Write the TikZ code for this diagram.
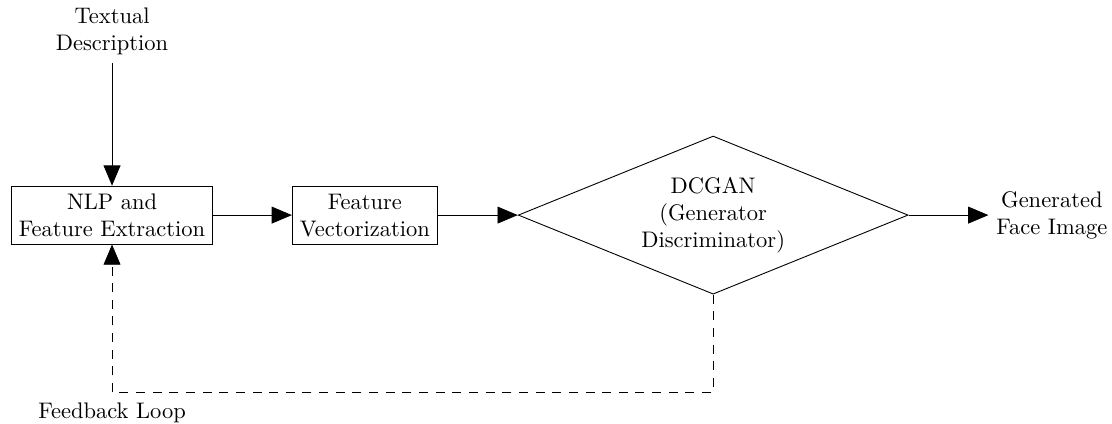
\documentclass[tikz,border=0pt]{standalone}
\usepackage{amsmath}
\usepackage{tikz}
\usetikzlibrary{arrows.meta,positioning,shapes.geometric}

\begin{document}
\begin{tikzpicture}[
    box/.style={draw, align=center},
    arrow/.style={-{Triangle[length=9pt,width=7.5pt]}},
    feedback/.style={dash pattern=on 4pt off 3.4pt}
]
\useasboundingbox (0,0) rectangle (17.37,6.61);

% Input
\node[align=center] (text) at (1.75,6.12) {Textual\\Description};

% Processing steps
\node[box] (nlp) at (1.75,3.25) {NLP and\\Feature Extraction};
\node[box] (vec) at (5.70,3.25) {Feature\\Vectorization};
\node[draw, diamond, align=center, aspect=2.47, minimum width=6.09cm, minimum height=2.47cm, inner sep=1pt] (gan) at (11.14,3.25) {DCGAN\\(Generator\\Discriminator)};

% Output
\node[align=center] (out) at (16.43,3.25) {Generated\\Face Image};

\draw[arrow] (text) -- (nlp);
\draw[arrow] (nlp) -- (vec);
\draw[arrow] (vec) -- (gan);
\draw[arrow] (gan) -- (out);

% Feedback
\coordinate (loop) at (1.75,0.48);
\draw[feedback, arrow] (gan.south) |- (loop) -- (nlp);
\node[below] (fb) at (1.75,0.44) {Feedback Loop};

\end{tikzpicture}
\end{document}
